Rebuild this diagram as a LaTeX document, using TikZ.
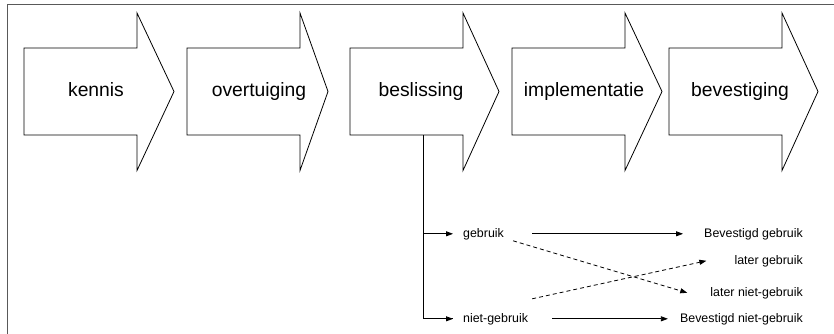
\documentclass[tikz,border=0pt]{standalone}
\usepackage{fontspec}
\setmainfont{Liberation Sans}
\usetikzlibrary{arrows.meta}
\newcommand\stagearrow[3]{\draw[stage] (#1,48) -- (#2,48) -- (#2,13) -- (#3,91.5) -- (#2,170.5) -- (#2,135) -- (#1,135) -- cycle;}
\begin{document}
\begin{tikzpicture}[x=1pt,y=-1pt,
  stage/.style={draw=black, line width=0.8pt, fill=white, line join=miter},
  big/.style={font=\fontsize{19.3}{23}\selectfont, inner sep=0pt, anchor=base},
  small/.style={font=\fontsize{12.4}{15}\selectfont, inner sep=0pt},
  link/.style={line width=0.8pt, -{Triangle[length=7pt,width=5pt]}},
  dlink/.style={link, dash pattern=on 4pt off 3pt},
  frame/.style={line width=1pt, draw=black!65}]
\useasboundingbox (0,0) rectangle (834,333);
\draw[frame] (7,340) -- (7,4) -- (840,4);
\stagearrow{24}{137}{174}
\stagearrow{187}{300}{328}
\stagearrow{350}{463}{499}
\stagearrow{512}{625}{662}
\stagearrow{669}{782}{818}
\node[big] (kennis) at (96,96.5) {kennis};
\node[big] (overt) at (259,96.5) {overtuiging};
\node[big] (besl) at (421,96.5) {beslissing};
\node[big] (impl) at (584,96.5) {implementatie};
\node[big] (bevest) at (740,96.5) {bevestiging};
\coordinate (split) at (423,135);
\node[small, anchor=base west] (geb) at (463,237) {gebruik};
\node[small, anchor=base west] (ng) at (463,322) {niet-gebruik};
\node[small, anchor=base east] (bg) at (803,237) {Bevestigd gebruik};
\node[small, anchor=base east] (lg) at (803,264) {later gebruik};
\node[small, anchor=base east] (lng) at (803,296) {later niet-gebruik};
\node[small, anchor=base east] (bng) at (803,322) {Bevestigd niet-gebruik};
\draw[line width=0.8pt] (split) |- ([xshift=-10pt]ng.west);
\draw[link, shorten >=10pt] (split) |- (geb.west);
\draw[link, shorten >=10pt] (split) |- (ng.west);
\draw[link] ([xshift=28pt]geb.east) -- ([xshift=-21pt]bg.west);
\draw[link] ([xshift=24pt]ng.east) -- ([xshift=-12pt]bng.west);
\draw[dlink] ([shift={(9pt,-7pt)}]geb.east) -- ([xshift=-23pt]lng.west);
\draw[dlink] ([shift={(4pt,20pt)}]ng.east) -- ([xshift=-28pt]lg.west);
\end{tikzpicture}
\end{document}
